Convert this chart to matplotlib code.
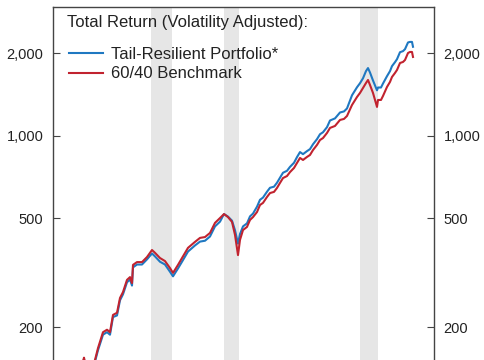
import matplotlib
matplotlib.use("Agg")
import matplotlib.pyplot as plt
from matplotlib.ticker import FixedLocator, NullLocator, FuncFormatter

plt.rcParams['font.family'] = ['Liberation Sans', 'DejaVu Sans']

years = [1992.3, 1992.7, 1993.1, 1993.4, 1993.8, 1994.2, 1994.5, 1995.0, 1995.4, 1995.7,
         1996.0, 1996.4, 1996.7, 1997.0, 1997.4, 1997.7, 1997.9, 1998.0, 1998.4, 1998.9,
         1999.4, 1999.9, 2000.2, 2000.7, 2001.2, 2001.7, 2002.0, 2002.5, 2002.9, 2003.5,
         2004.2, 2004.7, 2005.2, 2005.7, 2006.2, 2006.7, 2007.1, 2007.5, 2007.9, 2008.2,
         2008.5, 2008.7, 2009.0, 2009.4, 2009.7, 2010.0, 2010.4, 2010.7, 2011.0, 2011.4,
         2011.7, 2012.1, 2012.4, 2012.7, 2013.0, 2013.4, 2013.7, 2014.1, 2014.4, 2014.7,
         2015.0, 2015.4, 2015.7, 2016.0, 2016.4, 2016.7, 2017.0, 2017.4, 2017.7, 2018.2,
         2018.7, 2019.1, 2019.4, 2019.9, 2020.4, 2020.7, 2021.0, 2021.3, 2021.5, 2021.7,
         2022.0, 2022.4, 2022.5, 2022.8, 2023.0, 2023.4, 2023.7, 2023.9, 2024.2, 2024.4,
         2024.7, 2025.0, 2025.2, 2025.5, 2025.7, 2025.9, 2026.0]

tail_resilient = [121, 135, 153, 135, 140, 150, 165, 188, 192, 188,
                  218, 221, 251, 264, 292, 299, 284, 331, 339, 339,
                  354, 372, 363, 347, 339, 319, 307, 328, 347, 378,
                  398, 411, 414, 429, 467, 486, 518, 507, 490, 452,
                  404, 438, 467, 479, 508, 520, 551, 584, 595, 625,
                  646, 652, 674, 703, 733, 745, 770, 797, 836, 872,
                  857, 879, 894, 931, 972, 1013, 1030, 1075, 1137, 1157,
                  1216, 1227, 1258, 1405, 1503, 1555, 1621, 1722, 1766, 1701,
                  1591, 1465, 1500, 1500, 1551, 1650, 1721, 1795, 1856, 1903,
                  2018, 2036, 2070, 2190, 2200, 2200, 2112]

benchmark_60_40 = [123, 137, 155, 137, 142, 152, 168, 192, 196, 192,
                   222, 226, 256, 269, 298, 305, 290, 338, 346, 346,
                   361, 383, 374, 358, 349, 329, 316, 338, 358, 390,
                   410, 424, 427, 442, 481, 501, 518, 505, 485, 435,
                   367, 417, 453, 465, 493, 505, 527, 559, 569, 598,
                   618, 624, 645, 673, 701, 713, 737, 763, 796, 830,
                   816, 837, 851, 887, 926, 965, 981, 1024, 1068, 1086,
                   1142, 1152, 1181, 1295, 1385, 1433, 1494, 1558, 1598, 1532,
                   1433, 1274, 1351, 1351, 1397, 1507, 1572, 1639, 1695, 1738,
                   1843, 1859, 1890, 2004, 2022, 2022, 1939]

shaded_periods = [(1999.8, 2001.9), (2007.1, 2008.6), (2020.7, 2022.5)]
y_ticks = [200, 500, 1000, 2000]
series_labels = ["Tail-Resilient Portfolio*", "60/40 Benchmark"]
legend_title = "Total Return (Volatility Adjusted):"

fig = plt.figure(figsize=(4.85, 3.6), dpi=100)
ax = fig.add_axes([53/485, 0.0, 381/485, 353/360])

for a, b in shaded_periods:
    ax.axvspan(a, b, color='#e6e6e6', lw=0, zorder=0)

ax.plot(years, tail_resilient, color='#1f78c1', lw=1.5, label=series_labels[0], zorder=2)
ax.plot(years, benchmark_60_40, color='#c1232f', lw=1.5, label=series_labels[1], zorder=3)

ax.set_yscale('log')
ax.set_ylim(152, 2950)
ax.set_xlim(1990, 2028.1)

ax.yaxis.set_major_locator(FixedLocator(y_ticks))
ax.yaxis.set_minor_locator(NullLocator())
ax.yaxis.set_major_formatter(FuncFormatter(lambda v, p: f"{int(round(v)):,}"))
ax.tick_params(axis='y', which='major', direction='in', length=5, width=0.8,
               color='#444444', labelsize=10.5, pad=7, left=True, right=True,
               labelleft=True, labelright=True, labelcolor='#222222')
ax.tick_params(axis='x', which='both', bottom=False, labelbottom=False)
ax.xaxis.set_minor_locator(NullLocator())

for side in ['left', 'right', 'top']:
    ax.spines[side].set_color('#444444')
    ax.spines[side].set_linewidth(1.0)
ax.spines['bottom'].set_visible(False)

ax.text((67 - 53) / 381, (360 - 22) / 353, legend_title, transform=ax.transAxes,
        ha='left', va='center', fontsize=12, color='#222222')

leg = ax.legend(loc='upper left', bbox_to_anchor=((69 - 53) / 381, (360 - 47) / 353),
                frameon=False, fontsize=12, handlelength=2.05, handletextpad=0.48,
                labelspacing=0.27, borderaxespad=0.0, borderpad=0.0)
for t in leg.get_texts():
    t.set_color('#222222')

fig.savefig('out.png', dpi=100)
